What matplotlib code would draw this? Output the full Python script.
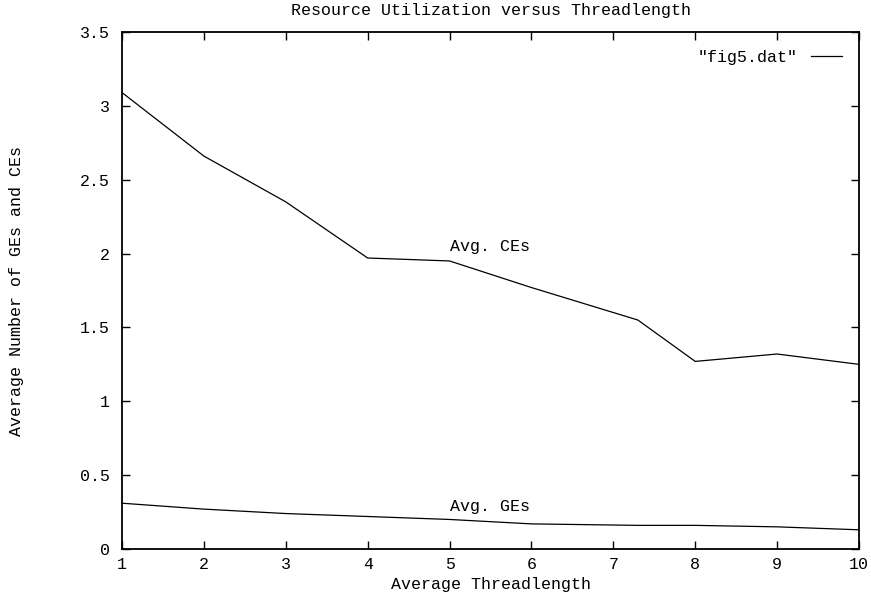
import numpy as np
from matplotlib import pyplot as plt
from matplotlib.ticker import FuncFormatter

plt.rcParams['font.family'] = ['Liberation Mono', 'DejaVu Sans Mono']
plt.rcParams['font.size'] = 12

# average threadlength on the x axis
threadlen = [1, 2, 3, 4, 5, 6, 7.3, 8, 9, 10]
avg_ces = [3.09, 2.66, 2.35, 1.97, 1.95, 1.77, 1.55, 1.27, 1.32, 1.25]
avg_ges = [0.31, 0.27, 0.24, 0.22, 0.20, 0.17, 0.16, 0.16, 0.15, 0.13]

fig = plt.figure(figsize=(8.71, 5.93), dpi=100)
ax = fig.add_axes([122/871, 1 - 549/593, (859 - 122)/871, (549 - 32)/593])

ax.plot(threadlen, avg_ces, color='black', lw=0.9, label='"fig5.dat"')
ax.plot(threadlen, avg_ges, color='black', lw=0.9)

ax.text(5.0, 2.05, 'Avg. CEs', va='center', ha='left')
ax.text(5.0, 0.29, 'Avg. GEs', va='center', ha='left')

ax.set_xlim(1, 10)
ax.set_ylim(0, 3.5)
ax.set_xticks(range(1, 11))
ax.set_yticks(np.arange(0, 3.51, 0.5))
ax.yaxis.set_major_formatter(FuncFormatter(lambda v, p: '%g' % v))
ax.tick_params(direction='in', length=6, width=1, top=True, right=True)
ax.tick_params(axis='y', pad=9)
ax.tick_params(axis='x', pad=6)
for s in ax.spines.values():
    s.set_linewidth(1.3)

ax.set_title('Resource Utilization versus Threadlength', fontsize=12, pad=12)
ax.set_xlabel('Average Threadlength', labelpad=3)
ax.set_ylabel('Average Number of GEs and CEs')
ax.yaxis.set_label_coords(-98/737, 0.5)

ax.legend(loc='upper right', frameon=False, markerfirst=False,
          handlelength=1.9, borderaxespad=0,
          bbox_to_anchor=(0.9864, 0.979))

plt.savefig('out.png', dpi=100)
